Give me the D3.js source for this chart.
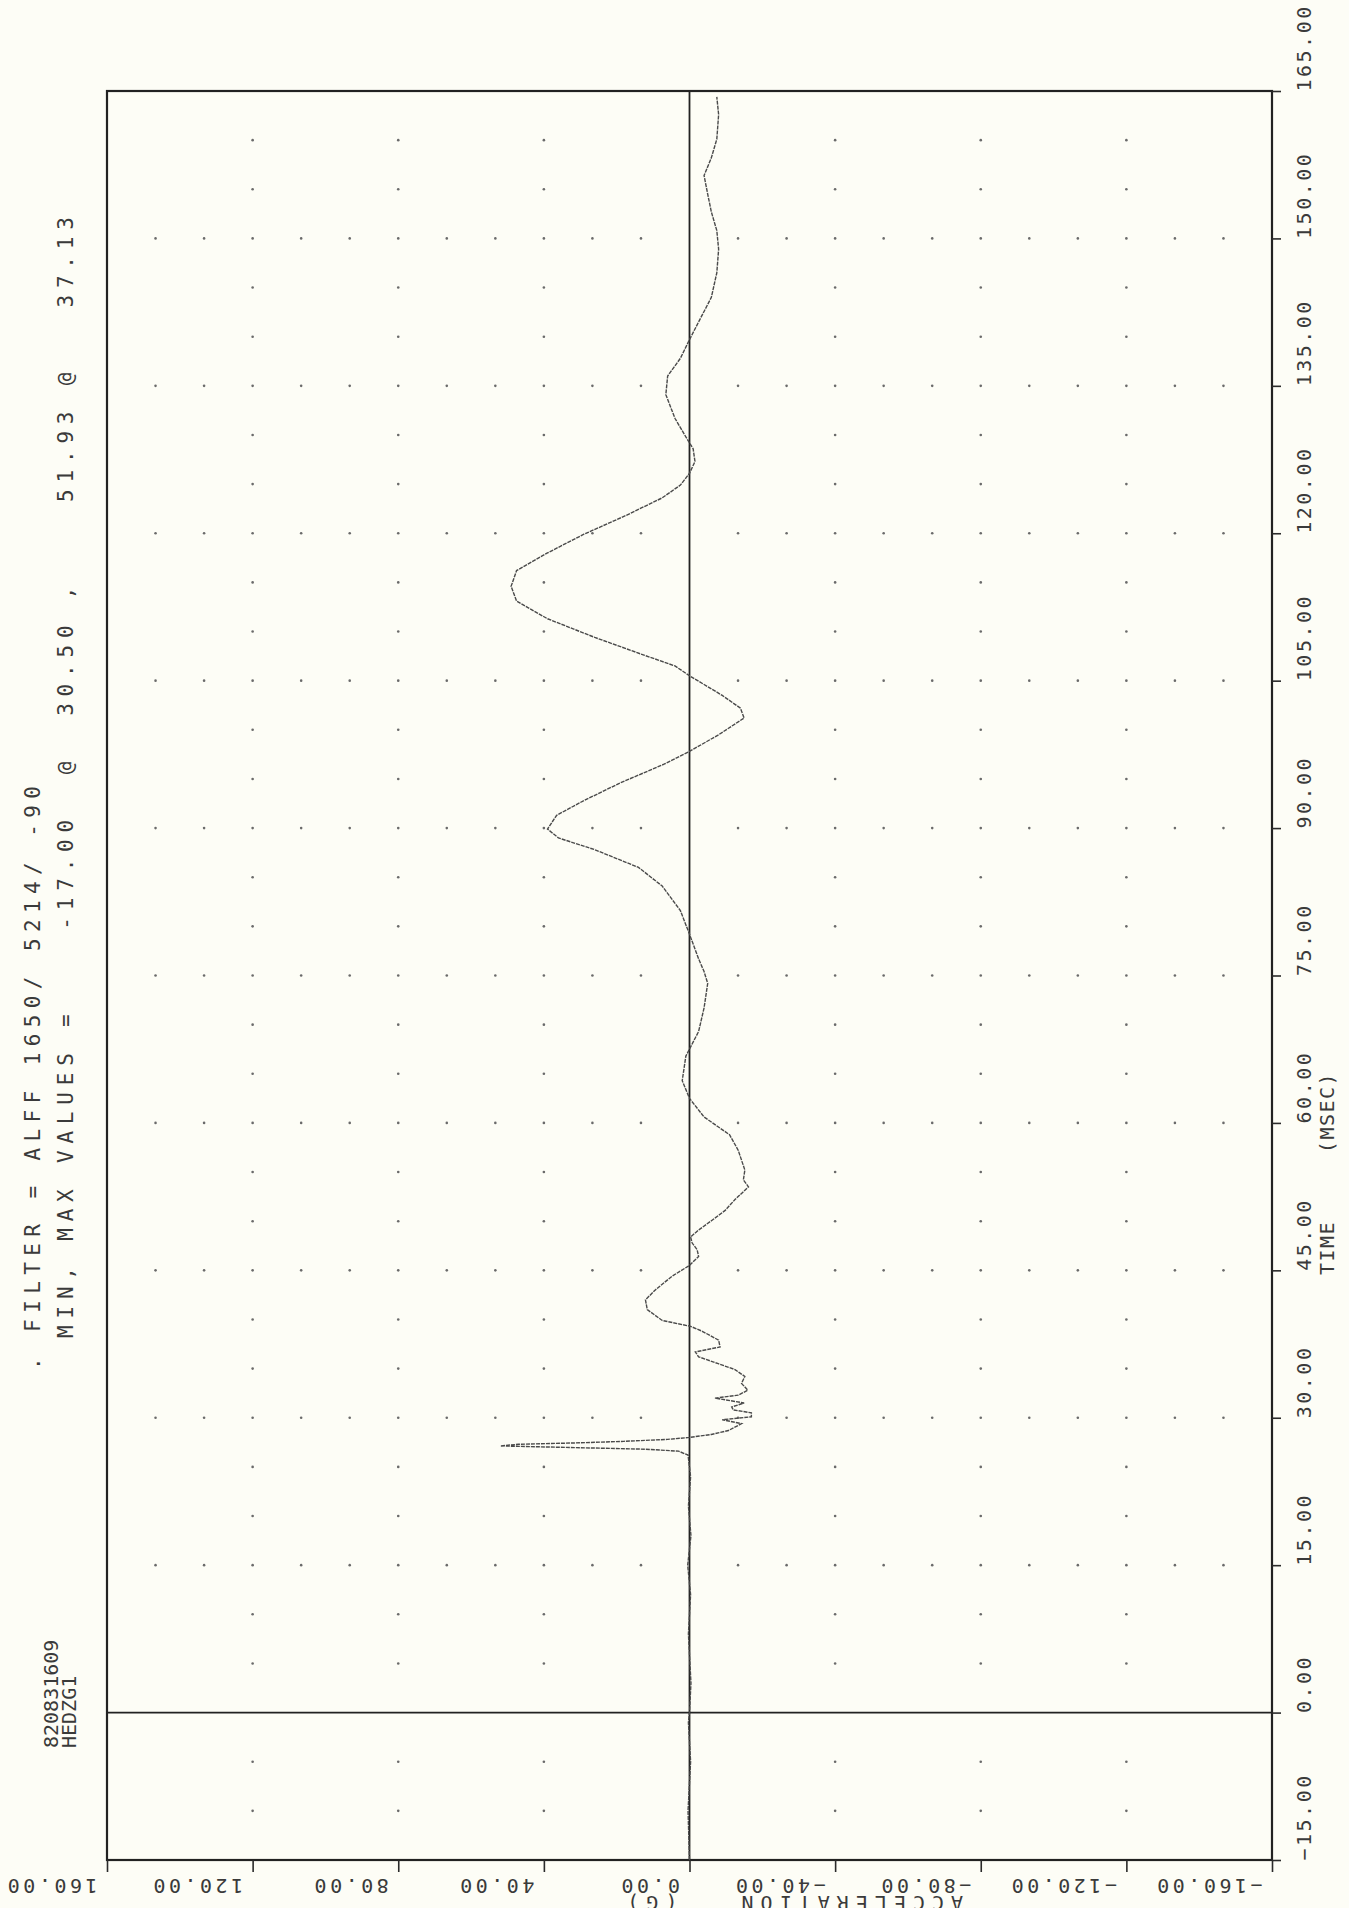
<!DOCTYPE html>
<meta charset="utf-8">
<style>
body { margin: 0; background: #fdfdf6; }
svg { display: block; }
text { font-family: "DejaVu Sans Mono", "Liberation Mono", monospace; fill: #3a3a3a; white-space: pre; }
.axis path { display: none; }
.axis line { stroke: #2a2a2a; stroke-width: 1.6; }
.frame { fill: none; stroke: #222; stroke-width: 2.2; }
.zero { stroke: #222; stroke-width: 1.8; }
.dot { fill: #6a6a6a; }
.trace { fill: none; stroke: #4a4a4a; stroke-width: 1.4; stroke-dasharray: 4 1; }
</style>
<svg width="1349" height="1908"></svg>
<script src="https://d3js.org/d3.v7.min.js"></script>
<script>

// time axis (ms) runs up the page, acceleration (G) runs right-to-left
var timeTicks = [-15, 0, 15, 30, 45, 60, 75, 90, 105, 120, 135, 150, 165];
var accelTicks = [160, 120, 80, 40, 0, -40, -80, -120, -160];

var traceTime = [-15, -10, -5, -1, 0, 3, 8, 12, 15, 18, 21, 24, 26.2, 26.6, 26.8, 27.0, 27.13, 27.3, 27.45, 27.6, 27.8, 28.0,
  28.3, 28.7, 29.4, 29.8, 30.1, 30.5, 30.8, 31.1, 31.5, 32.0, 32.3, 32.8, 33.5, 34.2, 34.9, 35.5, 36.2, 36.7, 37.2, 37.9,
  38.8, 39.3, 39.9, 41.0, 42.0, 43.0, 44.4, 45.5, 46.4, 47.1, 47.8, 48.4, 49.1, 50.1, 51.1, 52.2, 53.5, 54.2, 55.2, 56.2,
  57.2, 58.8, 60.6, 62.5, 64.3, 66.8, 69.3, 71.7, 74.2, 75.4, 76.7, 79.2, 81.6, 84.1, 86.0, 87.8, 89.0, 89.9, 91.3, 92.8,
  94.6, 96.5, 97.8, 99.5, 101.2, 102.2, 103.5, 105.5, 106.5, 107.6, 109.4, 111.3, 113.1, 114.6, 116.2, 118.0, 119.9, 121.8,
  123.6, 124.9, 126.1, 127.3, 128.6, 129.8, 131.7, 134.1, 136.0, 137.8, 139.7, 141.5, 144.0, 146.5, 148.9, 150.8, 152.7,
  154.5, 156.4, 158.2, 160.1, 162.6, 164.4];
var traceAccel = [0, 0.4, -0.3, 0.3, 0, -0.4, 0.3, -0.3, 0.5, -0.4, 0.3, -0.3, 0.4, 3, 12, 36, 51.93, 47, 30, 18, 6, 0,
  -6, -10.7, -14.3, -9, -17, -17, -12, -11.6, -15, -7, -13.4, -16, -14.3, -15.2, -12.5, -7.9, -2.5, -1.6, -8.4, -8,
  -3.5, -0.3, 7.5, 11.6, 12.1, 9.4, 4.8, 0, -2.5, -2.1, -0.7, -0.3, -2.5, -6.2, -9.8, -12.5, -16.2, -14.8, -15.2, -14.3,
  -13.4, -11, -4, 0, 2, 1, -2.5, -4, -5, -4, -2.5, 0, 2.5, 7.5, 14, 26, 36, 39, 36.5, 29,
  19, 7, 0, -8, -15, -14, -9, 0, 4, 12.5, 26, 39, 47.5, 49, 47.5, 39, 29, 17.5,
  7.5, 2.5, 0, -1.5, -1, 1, 4, 6.5, 6, 2.5, 0, -2.5, -6, -7.5, -8, -7.5, -6,
  -5, -4, -6, -7.5, -8, -7.5];

var headerId = ["820831609", "HEDZG1"];
var headerFilter = ". FILTER = ALFF 1650/ 5214/ -90";
var headerMinMax = "MIN, MAX VALUES =    -17.00  @  30.50 ,    51.93 @   37.13";
var timeTitle = "TIME     (MSEC)";
var accelTitle = "ACCELERATION   (G)";

var svg = d3.select("svg"),
    frame = {left: 107, right: 1272, top: 91, bottom: 1860};

var t = d3.scaleLinear().domain([-15, 165]).range([frame.bottom, frame.top]);
var a = d3.scaleLinear().domain([160, -160]).range([frame.left, frame.right]);
var fmt = d3.format(".2f");

svg.append("rect")
    .attr("width", 1349).attr("height", 1908)
    .attr("fill", "#fdfdf6");

// dotted grid
var g = svg.append("g");
var gridDots = [];
timeTicks.slice(1, -1).forEach(function(tt) {
  if (tt === 0) return;
  for (var k = 1; k < 24; k++) {
    var v = 160 - k * 40 / 3;
    if (Math.abs(v) > 1e-6) gridDots.push([v, tt]);
  }
});
accelTicks.slice(1, -1).forEach(function(v) {
  if (v === 0) return;
  for (var k = 1; k < 36; k++) {
    var tt = -15 + k * 5;
    if (tt !== 0 && tt % 15 !== 0) gridDots.push([v, tt]);
  }
});
g.selectAll(".dot")
  .data(gridDots)
  .enter().append("circle")
    .attr("class", "dot")
    .attr("cx", function(d) { return a(d[0]); })
    .attr("cy", function(d) { return t(d[1]); })
    .attr("r", 1.3);

// zero lines
svg.append("line").attr("class", "zero")
    .attr("x1", a(0)).attr("x2", a(0)).attr("y1", frame.top).attr("y2", frame.bottom);
svg.append("line").attr("class", "zero")
    .attr("x1", frame.left).attr("x2", frame.right).attr("y1", t(0)).attr("y2", t(0));

svg.append("rect").attr("class", "frame")
    .attr("x", frame.left).attr("y", frame.top)
    .attr("width", frame.right - frame.left).attr("height", frame.bottom - frame.top);

// time axis on the right
var tAxis = svg.append("g")
    .attr("class", "axis")
    .attr("transform", "translate(" + frame.right + ",0)")
    .call(d3.axisRight(t).tickValues(timeTicks).tickSize(9).tickFormat(fmt));
tAxis.selectAll("text")
    .attr("transform", "rotate(-90)")
    .attr("x", 0).attr("y", 39).attr("dy", 0)
    .attr("text-anchor", "start")
    .style("font-size", "20px")
    .style("letter-spacing", "2.5px")
    .attr("fill", "#3a3a3a");

// acceleration axis along the bottom, labels upside down
var aAxis = svg.append("g")
    .attr("class", "axis")
    .attr("transform", "translate(0," + frame.bottom + ")")
    .call(d3.axisBottom(a).tickValues(accelTicks).tickSize(12).tickFormat(fmt));
aAxis.selectAll("text")
    .attr("transform", "rotate(180)")
    .attr("x", 10).attr("y", -19).attr("dy", 0)
    .attr("text-anchor", "start")
    .style("font-size", "20px")
    .style("letter-spacing", "3.5px")
    .attr("fill", "#3a3a3a");

// trace
var line = d3.line()
    .x(function(d, i) { return a(traceAccel[i]); })
    .y(function(d) { return t(d); });
svg.append("path")
    .attr("class", "trace")
    .attr("d", line(traceTime));

// titles (rotated text)
function vtext(str, x, y, size, spacing) {
  svg.append("text")
      .attr("transform", "translate(" + x + "," + y + ") rotate(-90)")
      .style("font-size", size + "px")
      .style("letter-spacing", spacing + "px")
      .text(str);
}
vtext(timeTitle, 1334, 1275, 20, 1.5);
vtext(headerId[0], 58, 1748, 20, 0);
vtext(headerId[1], 76, 1748, 20, 0);
vtext(headerFilter, 40, 1370, 21, 6.4);
vtext(headerMinMax, 73, 1338, 21, 6.8);

svg.append("text")
    .attr("transform", "translate(963,1896) rotate(180)")
    .style("font-size", "20px")
    .style("letter-spacing", "7px")
    .text(accelTitle);

</script>
